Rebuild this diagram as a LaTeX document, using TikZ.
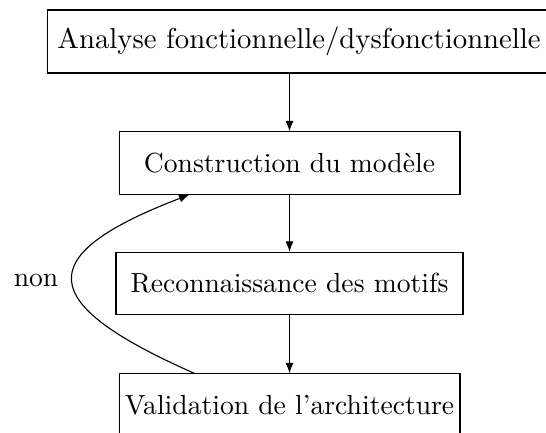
\documentclass[tikz,border=0pt]{standalone}
\usetikzlibrary{arrows.meta}
\begin{document}
\begin{tikzpicture}[x=0.362pt,y=-0.362pt,
  box/.style={draw, minimum height=22.5pt, inner sep=0pt},
  arr/.style={-{Latex[length=3.8pt,width=2.9pt]}}]
\useasboundingbox (0,0) rectangle (546,432);
\node[box, anchor=west, inner xsep=3.6pt, minimum height=22.8pt, font=\fontsize{10.4}{12}\selectfont] (a) at (47,41.5) {Analyse fonctionnelle/dysfonctionnelle};
\node[box, minimum width=123.4pt] (b) at (289.5,163) {Construction du modèle};
\node[box, minimum width=125.6pt] (c) at (289.5,283.5) {Reconnaissance des motifs};
\node[box, minimum width=123.4pt] (d) at (289.5,405) {Validation de l'architecture};
\draw[arr] (a.south -| b.north) -- (b.north);
\draw[arr] (b) -- (c);
\draw[arr] (c) -- (d);
\draw[arr] ([xshift=27.5pt]d.north west) .. controls +(-158.5,-70) and +(-159.7,61.2) .. node[pos=0.5,left,inner sep=5pt]{non} ([xshift=25.7pt]b.south west);
\end{tikzpicture}
\end{document}
